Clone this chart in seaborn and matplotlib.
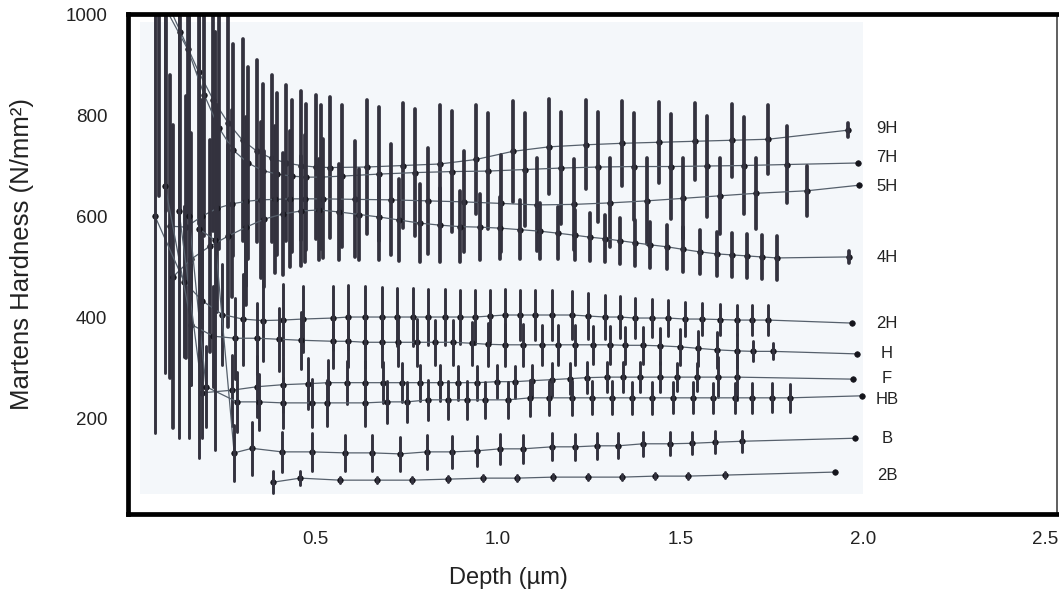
import matplotlib
matplotlib.use("Agg")
import matplotlib.pyplot as plt
import pandas as pd
import seaborn as sns
from matplotlib.patches import Rectangle

# pencil grades (hardest first) and where their labels sit
grades = ["9H", "7H", "5H", "4H", "2H", "H", "F", "HB", "B", "2B"]
label_y = [774, 715, 659, 517, 388, 327, 279, 236, 160, 87]

x_ticks = [0.5, 1.0, 1.5, 2.0, 2.5]
x_tick_labels = ["0.5", "1.0", "1.5", "2.0", "2.5"]
y_ticks = [200, 400, 600, 800, 1000]
y_tick_labels = ["200", "400", "600", "800", "1000"]

# depth (um), Martens hardness (N/mm2), half length of the error bar
depth_9h = [0.07, 0.13, 0.18, 0.22, 0.26, 0.30, 0.34, 0.38, 0.42, 0.46, 0.50,
            0.54, 0.64, 0.74, 0.84, 0.94, 1.04, 1.14, 1.24, 1.34, 1.44, 1.54,
            1.64, 1.74, 1.959]
hard_9h = [1060, 965, 885, 830, 785, 750, 728, 714, 705, 700, 697,
           696, 697, 700, 703, 712, 728, 737, 741, 744, 746, 748,
           750, 752, 770]
err_9h = [420, 360, 300, 260, 230, 200, 180, 165, 155, 148, 142,
          140, 132, 124, 116, 108, 100, 94, 88, 84, 80, 76,
          72, 68, 14]

depth_7h = [0.09, 0.15, 0.195, 0.235, 0.275, 0.315, 0.355, 0.395, 0.435, 0.475,
            0.515, 0.573, 0.673, 0.773, 0.873, 0.973, 1.073, 1.173, 1.273,
            1.373, 1.473, 1.573, 1.673, 1.793, 1.986]
hard_7h = [1010, 930, 840, 775, 730, 705, 690, 683, 679, 677,
           677, 679, 683, 686, 688, 689, 692, 695, 697,
           698, 698, 699, 700, 702, 705]
err_7h = [400, 330, 280, 240, 210, 190, 172, 160, 150, 145,
          142, 140, 132, 125, 120, 115, 112, 110, 108,
          106, 104, 100, 96, 76, 0]

depth_5h = [0.10, 0.145, 0.19, 0.23, 0.27, 0.31, 0.35, 0.39, 0.43, 0.47,
            0.52, 0.607, 0.707, 0.807, 0.907, 1.007, 1.107, 1.207, 1.307,
            1.407, 1.507, 1.607, 1.707, 1.847, 1.989]
hard_5h = [580, 578, 600, 615, 624, 629, 632, 633, 634, 634,
           634, 633, 632, 630, 628, 625, 622, 623, 626,
           630, 635, 640, 645, 650, 661]
err_5h = [300, 260, 230, 205, 185, 168, 155, 145, 135, 126,
          118, 115, 110, 105, 100, 96, 92, 90, 88,
          85, 80, 75, 70, 50, 0]

depth_4h = [0.11, 0.16, 0.21, 0.26, 0.31, 0.36, 0.41, 0.46, 0.51, 0.565,
            0.62, 0.675, 0.73, 0.785, 0.84, 0.895, 0.95, 1.005, 1.06, 1.115,
            1.164, 1.21, 1.253, 1.294, 1.335, 1.376, 1.417, 1.463, 1.507,
            1.553, 1.60, 1.641, 1.682, 1.723, 1.764, 1.962]
hard_4h = [480, 515, 540, 560, 578, 594, 604, 610, 612, 608,
           603, 598, 592, 586, 582, 579, 578, 576, 573, 570,
           566, 562, 558, 555, 551, 547, 543, 539, 534,
           529, 525, 523, 521, 519, 517, 519]
err_4h = [300, 250, 210, 180, 155, 135, 120, 108, 100, 95,
          90, 86, 82, 78, 74, 70, 66, 62, 58, 55,
          52, 50, 48, 47, 46, 45, 45, 44, 44,
          44, 44, 44, 44, 44, 44, 12]

depth_2h = [0.06, 0.14, 0.19, 0.245, 0.30, 0.355, 0.41, 0.465, 0.548, 0.589,
            0.636, 0.682, 0.723, 0.767, 0.808, 0.855, 0.896, 0.937, 0.978,
            1.019, 1.060, 1.101, 1.148, 1.203, 1.247, 1.293, 1.334, 1.375,
            1.422, 1.466, 1.512, 1.559, 1.608, 1.655, 1.696, 1.740, 1.970]
hard_2h = [600, 470, 432, 405, 396, 393, 394, 396, 398, 400,
           400, 400, 400, 400, 400, 400, 400, 400, 402,
           404, 404, 404, 404, 404, 402, 400, 400, 398,
           398, 398, 396, 396, 395, 394, 394, 394, 388]
err_2h = [430, 150, 120, 100, 90, 80, 72, 66, 64, 63,
          62, 60, 58, 57, 56, 55, 54, 53, 52,
          51, 50, 50, 49, 48, 46, 44, 42, 40,
          38, 36, 34, 32, 31, 30, 30, 30, 0]

depth_h = [0.088, 0.16, 0.22, 0.28, 0.34, 0.40, 0.46, 0.548, 0.589, 0.636,
           0.682, 0.726, 0.778, 0.827, 0.877, 0.929, 0.973, 1.019, 1.068,
           1.121, 1.164, 1.211, 1.260, 1.307, 1.348, 1.397, 1.444, 1.499,
           1.548, 1.600, 1.655, 1.699, 1.753, 1.984]
hard_h = [660, 385, 362, 358, 358, 356, 354, 352, 352, 350,
          350, 350, 350, 350, 350, 348, 346, 345, 345,
          345, 345, 345, 345, 345, 344, 344, 343, 341,
          338, 335, 333, 332, 332, 327]
err_h = [370, 120, 100, 80, 70, 62, 56, 52, 50, 50,
         48, 47, 46, 45, 44, 43, 42, 42, 41,
         40, 40, 39, 38, 38, 37, 37, 36, 36,
         35, 35, 34, 20, 16, 0]

depth_f = [0.126, 0.19, 0.27, 0.34, 0.41, 0.48, 0.534, 0.586, 0.636, 0.685,
           0.737, 0.786, 0.841, 0.890, 0.942, 0.997, 1.047, 1.093, 1.148,
           1.197, 1.244, 1.299, 1.342, 1.389, 1.444, 1.490, 1.545, 1.603,
           1.655, 1.973]
hard_f = [610, 250, 255, 262, 266, 268, 270, 270, 270, 270,
          270, 270, 270, 270, 270, 272, 272, 274, 276,
          278, 280, 281, 281, 281, 281, 281, 281, 281,
          281, 277]
err_f = [450, 90, 70, 60, 55, 50, 45, 42, 42, 40,
         38, 36, 36, 34, 34, 33, 32, 32, 32,
         31, 30, 30, 30, 29, 29, 28, 28, 40,
         45, 0]

depth_hb = [0.153, 0.20, 0.285, 0.345, 0.41, 0.49, 0.532, 0.636, 0.696, 0.751,
            0.808, 0.863, 0.915, 0.964, 1.027, 1.088, 1.14, 1.203, 1.258,
            1.312, 1.367, 1.422, 1.479, 1.534, 1.589, 1.649, 1.696, 1.751,
            1.80, 1.997]
hard_hb = [600, 262, 232, 232, 230, 230, 230, 230, 232, 232,
           236, 236, 236, 236, 236, 240, 240, 240, 240,
           240, 240, 240, 240, 240, 240, 240, 240, 240,
           240, 244]
err_hb = [440, 80, 60, 55, 50, 48, 46, 45, 42, 40,
          40, 38, 38, 36, 36, 35, 34, 34, 33,
          33, 32, 32, 31, 31, 30, 30, 30, 29,
          28, 0]

depth_b = [0.18, 0.225, 0.277, 0.326, 0.408, 0.490, 0.581, 0.655, 0.732, 0.805,
           0.874, 0.942, 1.005, 1.068, 1.148, 1.211, 1.271, 1.329, 1.397,
           1.471, 1.532, 1.595, 1.668, 1.978]
hard_b = [575, 552, 131, 140, 133, 133, 131, 131, 129, 133,
          133, 135, 139, 139, 143, 143, 145, 145, 149,
          149, 150, 152, 154, 160]
err_b = [455, 415, 55, 52, 40, 38, 36, 35, 34, 33,
         32, 30, 30, 28, 27, 26, 26, 25, 24,
         23, 22, 22, 21, 0]

depth_2b = [0.384, 0.458, 0.567, 0.668, 0.764, 0.863, 0.959, 1.052, 1.151,
            1.247, 1.340, 1.430, 1.521, 1.622, 1.923]
hard_2b = [73, 81, 77, 77, 77, 79, 81, 81, 83, 83, 83, 85, 85, 87, 93]
err_2b = [22, 14, 6, 6, 6, 6, 6, 6, 6, 6, 6, 6, 6, 6, 0]

series = {
    "9H": (depth_9h, hard_9h, err_9h),
    "7H": (depth_7h, hard_7h, err_7h),
    "5H": (depth_5h, hard_5h, err_5h),
    "4H": (depth_4h, hard_4h, err_4h),
    "2H": (depth_2h, hard_2h, err_2h),
    "H": (depth_h, hard_h, err_h),
    "F": (depth_f, hard_f, err_f),
    "HB": (depth_hb, hard_hb, err_hb),
    "B": (depth_b, hard_b, err_b),
    "2B": (depth_2b, hard_2b, err_2b),
}


def make_table(depth, hardness, err):
    # two rows per point (bottom and top of the bar): mean = value, min/max = bar ends
    rows = []
    for d, h, e in zip(depth, hardness, err):
        rows.append({"depth": d, "hardness": h - e})
        rows.append({"depth": d, "hardness": h + e})
    return pd.DataFrame(rows)


sns.set_theme(style="white")
plt.rcParams["font.family"] = ["Liberation Sans", "DejaVu Sans"]

fig = plt.figure(figsize=(10.59, 5.96), dpi=100)
ax = fig.add_axes([0.1209, 0.1376, 0.8772, 0.8389])

ax.add_patch(Rectangle((0.02, 50), 1.98, 935, facecolor="#f4f7fa", edgecolor="none", zorder=0))

hard_grades = ["9H", "7H", "5H", "4H"]
for grade in grades:
    depth, hardness, err = series[grade]
    table = make_table(depth, hardness, err)
    bar_width = 2.7 if grade in hard_grades else 2.1
    sns.lineplot(
        data=table, x="depth", y="hardness", ax=ax,
        estimator="mean", errorbar=("pi", 100), err_style="bars",
        color="#56606c", linewidth=0.9,
        marker="o", markersize=4, markerfacecolor="#15151c",
        markeredgecolor="#15151c", markeredgewidth=0.5,
        err_kws={"ecolor": "#33323e", "elinewidth": bar_width, "capsize": 0},
    )

for grade, ly in zip(grades, label_y):
    ax.text(2.066, ly, grade, ha="center", va="center", fontsize=12, color="#222222")

ax.set_xlim(-0.0137, 2.5315)
ax.set_ylim(10, 1000)
ax.set_xticks(x_ticks)
ax.set_xticklabels(x_tick_labels)
ax.set_yticks(y_ticks)
ax.set_yticklabels(y_tick_labels)
ax.tick_params(axis="both", length=0, labelsize=13.5, colors="#222222")
ax.tick_params(axis="y", pad=15)
ax.tick_params(axis="x", pad=12)

ax.set_xlabel("Depth (µm)", fontsize=17, color="#222222")
ax.set_ylabel("Martens Hardness (N/mm²)", fontsize=18.5, color="#222222")
ax.xaxis.set_label_coords(0.41, -0.106)
ax.yaxis.set_label_coords(-0.101, 0.52)

for side in ["left", "top", "bottom"]:
    ax.spines[side].set_linewidth(3.4)
    ax.spines[side].set_color("black")
ax.spines["right"].set_linewidth(1.2)
ax.spines["right"].set_color("#444444")

fig.savefig("out.png", dpi=100)
